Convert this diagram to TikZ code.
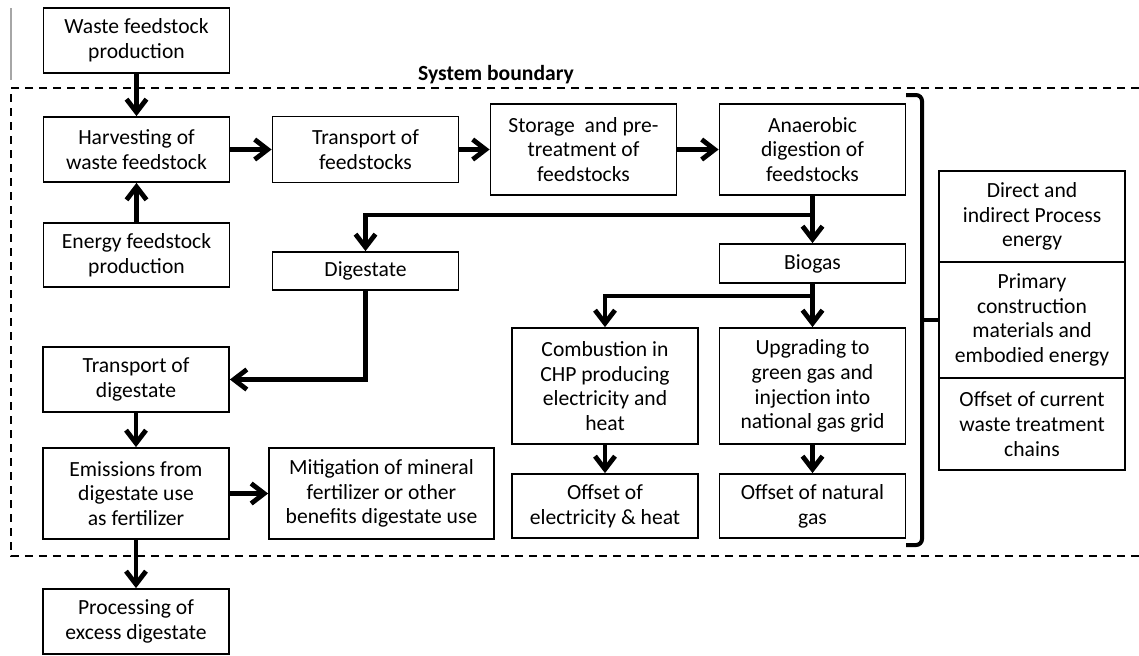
\documentclass[tikz,border=0pt]{standalone}
\usepackage{fontspec}
\setmainfont{Carlito}
\usetikzlibrary{arrows.meta,positioning}

\begin{document}
\begin{tikzpicture}[x=0.5pt,y=-0.5pt,
  box/.style={draw,line width=0.9pt,align=center,inner sep=1pt,minimum width=93pt,font=\fontsize{10.8}{12.4}\selectfont},
  flow/.style={line width=2.4pt,-{Straight Barb[length=6.5pt,width=10pt]}},
  boundary/.style={line width=1pt,dash pattern=on 4pt off 3pt},
  bracket/.style={line width=2pt,rounded corners=3pt}]
\useasboundingbox (0,0) rectangle (1139,655);

\node[box,minimum height=32.5pt] (waste) at (136.5,40.5) {Waste feedstock\\production};
\node[box,minimum height=32.5pt] (harvest) at (136.5,149.5) {Harvesting of\\waste feedstock};
\node[box,minimum height=32pt] (energy) at (136.5,255) {Energy feedstock\\production};
\node[box,minimum height=33pt] (transfeed) at (365.5,149.5) {Transport of\\feedstocks};
\node[box,minimum height=45.5pt] (storage) at (583.5,149.5) {Storage\ \ and pre-\\treatment of\\feedstocks};
\node[box,minimum height=45.5pt] (digest) at (812.5,149.5) {Anaerobic\\digestion of\\feedstocks};
\node[box,minimum height=19pt] (digestate) at (365.5,271) {Digestate};
\node[box,minimum height=19.5pt] (biogas) at (812.5,263.5) {Biogas};
\node[box,minimum height=58pt] (chp) at (605,386) {Combustion in\\CHP producing\\electricity and\\heat};
\node[box,minimum height=58pt] (upgrade) at (812.5,386) {Upgrading to\\green gas and\\injection into\\national gas grid};
\node[box,minimum height=32pt] (offelec) at (605,506) {Offset of\\electricity \& heat};
\node[box,minimum height=32pt] (offgas) at (812.5,506) {Offset of natural\\gas};
\node[box,minimum height=32.5pt] (transdig) at (136,379.5) {Transport of\\digestate};
\node[box,minimum height=45.5pt] (emission) at (136,493.5) {Emissions from\\digestate use\\as fertilizer};
\node[box,minimum height=45.5pt,minimum width=112.5pt] (mitigation) at (381.5,493.5) {Mitigation of mineral\\fertilizer or other\\benefits digestate use};
\node[box,minimum height=32.5pt] (excess) at (136,621.5) {Processing of\\excess digestate};

\node[box,minimum height=45.5pt] (procenergy) at (1032,216.5) {Direct and\\indirect Process\\energy};
\node[box,minimum height=58pt] (construction) at (1032,320) {Primary\\construction\\materials and\\embodied energy};
\node[box,minimum height=46pt] (offwaste) at (1032,424) {Offset of current\\waste treatment\\chains};

% system boundary
\draw[gray!70,line width=0.6pt] (11,8) -- (11,80);
\draw[boundary] (1139,88) -- (11,88) -- (11,556) -- (1139,556);
\node[font=\fontsize{10.8}{12.4}\selectfont\bfseries] (sysbound) at (496,75) {System boundary};

\draw[flow] (waste) -- (harvest);
\draw[flow] (energy) -- (harvest);
\draw[flow] (harvest) -- (transfeed);
\draw[flow] (transfeed) -- (storage);
\draw[flow] (storage) -- (digest);
\draw[flow] (digest) -- (biogas);
\coordinate (dsplit) at (812.5,215);
\draw[flow] (dsplit) -| (digestate);
\draw[flow] (biogas) -- (upgrade);
\coordinate (gsplit) at (812.5,296);
\draw[flow] (gsplit) -| (chp);
\draw[flow] (digestate) |- (transdig);
\draw[flow] (transdig) -- (emission);
\draw[flow] (emission) -- (mitigation);
\draw[flow] (emission) -- (excess);
\draw[flow] (chp) -- (offelec);
\draw[flow] (upgrade) -- (offgas);

% brace to the right-hand boxes
\draw[bracket] (906,95) -- (922,95) -- (922,545) -- (906,545);
\draw[line width=2pt] (922,320) -- (construction.west);
\end{tikzpicture}
\end{document}
